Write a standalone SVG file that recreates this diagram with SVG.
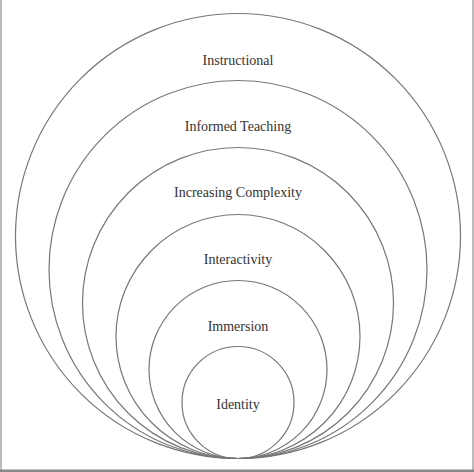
<svg xmlns="http://www.w3.org/2000/svg" width="474" height="472" viewBox="0 0 474 472">
<style>
.ring{fill:none;stroke:#777;stroke-width:1.2}
.lbl{font-family:"Liberation Serif","Times New Roman",serif;font-size:14px;fill:#333;text-anchor:middle;dominant-baseline:central}
</style>
<rect x="0" y="0" width="474" height="472" fill="#fff"/>
<rect x="0" y="0" width="2" height="472" fill="#bbb"/>
<rect x="472" y="0" width="2" height="472" fill="#bbb"/>
<rect x="0" y="469.5" width="474" height="2.5" fill="#888"/>
<g id="instructional">
<circle class="ring" cx="238" cy="236" r="222.5"/>
<text class="lbl" x="238" y="60">Instructional</text>
</g>
<g id="informed-teaching">
<circle class="ring" cx="238" cy="269.5" r="189"/>
<text class="lbl" x="238" y="126">Informed Teaching</text>
</g>
<g id="increasing-complexity">
<circle class="ring" cx="238" cy="303" r="155.5"/>
<text class="lbl" x="238" y="192">Increasing Complexity</text>
</g>
<g id="interactivity">
<circle class="ring" cx="238" cy="336.5" r="122"/>
<text class="lbl" x="238" y="259">Interactivity</text>
</g>
<g id="immersion">
<circle class="ring" cx="238" cy="369.5" r="89"/>
<text class="lbl" x="238" y="326">Immersion</text>
</g>
<g id="identity">
<circle class="ring" cx="238" cy="402.5" r="56"/>
<text class="lbl" x="238" y="404">Identity</text>
</g>
<g id="connectors"></g>
</svg>
